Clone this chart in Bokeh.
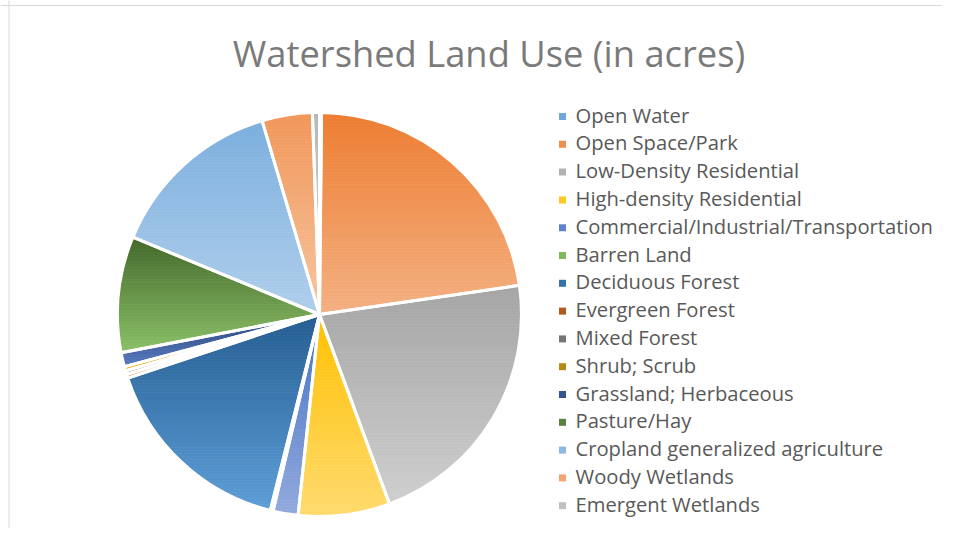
import numpy as np
from bokeh.plotting import figure
from bokeh.models import Range1d, Label, Span, ColumnDataSource
from bokeh.core.properties import value
from bokeh.embed import file_html
from bokeh.resources import INLINE

# ---------------- data ----------------
categories = [
    "Open Water", "Open Space/Park", "Low-Density Residential",
    "High-density Residential", "Commercial/Industrial/Transportation",
    "Barren Land", "Deciduous Forest", "Evergreen Forest", "Mixed Forest",
    "Shrub; Scrub", "Grassland; Herbaceous", "Pasture/Hay",
    "Cropland generalized agriculture", "Woody Wetlands", "Emergent Wetlands",
]
acres = [8, 1126, 1083, 366, 100, 11, 799, 15, 15, 17, 56, 464, 708, 201, 28]

top_colors = ["#5B9BD5", "#ED7D31", "#A5A5A5", "#FFC000", "#4472C4", "#70AD47",
              "#255E91", "#9E480E", "#636363", "#997300", "#264478", "#43682B",
              "#7CAFDD", "#F1975A", "#B7B7B7"]
bottom_colors = ["#9DC3E6", "#F4B183", "#CFCFCF", "#FFDB70", "#93AADD", "#A9D18E",
                 "#5E9ED8", "#E0804A", "#A0A0A0", "#F0C040", "#5A7BC0", "#8CC168",
                 "#B0CFEC", "#F7C5A0", "#D5D5D5"]

title_text = "Watershed Land Use (in acres)"

# ---------------- layout ----------------
W, H = 942, 528
CX, CY, R = 319, 214, 202

p = figure(width=W, height=H, x_range=Range1d(0, W), y_range=Range1d(0, H),
           output_backend="svg", toolbar_location=None,
           x_axis_type=None, y_axis_type=None, min_border=0,
           outline_line_color=None)
p.grid.visible = False
p.background_fill_color = "white"
p.border_fill_color = "white"


def hex2rgb(h):
    h = h.lstrip("#")
    return [int(h[i:i + 2], 16) for i in (0, 2, 4)]


def mix(c0, c1, t):
    a, b = hex2rgb(c0), hex2rgb(c1)
    return "#%02x%02x%02x" % tuple(int(round(a[i] + (b[i] - a[i]) * t)) for i in range(3))


def clip_half(pts, keep, inter):
    out = []
    n = len(pts)
    for i in range(n):
        cur, prev = pts[i], pts[i - 1]
        if keep(cur):
            if not keep(prev):
                out.append(inter(prev, cur))
            out.append(cur)
        elif keep(prev):
            out.append(inter(prev, cur))
    return out


def ix(p1, p2, y0):
    t = (y0 - p1[1]) / (p2[1] - p1[1])
    return (p1[0] + t * (p2[0] - p1[0]), y0)


def clip_band(poly, yl, yh):
    pts = clip_half(poly, lambda q: q[1] >= yl, lambda a, b: ix(a, b, yl))
    if len(pts) < 3:
        return []
    pts = clip_half(pts, lambda q: q[1] <= yh, lambda a, b: ix(a, b, yh))
    return pts


vals = np.array(acres, dtype=float)
deg = vals / vals.sum() * 360.0
ends = np.cumsum(deg)
starts = ends - deg

band_xs, band_ys, band_cols = [], [], []
for i in range(len(categories)):
    a0, a1 = starts[i], ends[i]
    n = max(4, int(deg[i] * 2))
    ts = np.deg2rad(np.linspace(a0, a1, n))
    poly = [(CX, CY)] + [(CX + R * np.sin(t), CY + R * np.cos(t)) for t in ts]
    ymin = min(q[1] for q in poly)
    ymax = max(q[1] for q in poly)
    nb = max(2, int((ymax - ymin) / 3))
    edges = np.linspace(ymax, ymin, nb + 1)
    for k in range(nb):
        yh, yl = edges[k], edges[k + 1]
        pts = clip_band(poly, yl, yh)
        if len(pts) < 3:
            continue
        tt = (k + 0.5) / nb
        band_xs.append([q[0] for q in pts])
        band_ys.append([q[1] for q in pts])
        band_cols.append(mix(top_colors[i], bottom_colors[i], tt))

p.patches(xs="xs", ys="ys", fill_color="c", line_color="c", line_width=0.8,
          source=ColumnDataSource(dict(xs=band_xs, ys=band_ys, c=band_cols)))

wsrc = ColumnDataSource(dict(
    s=list(np.deg2rad(90 - starts)), e=list(np.deg2rad(90 - ends))))
p.wedge(x=CX, y=CY, radius=R, start_angle="s", end_angle="e",
        direction="clock", fill_color=None, line_color="white", line_width=3,
        source=wsrc)

# ---------------- legend ----------------
step = 27.8
nc = len(categories)
leg_src = ColumnDataSource(dict(
    x=[562] * nc, y=[412 - i * step for i in range(nc)],
    tx=[575] * nc, ty=[414 - i * step for i in range(nc)],
    c=[mix(top_colors[i], bottom_colors[i], 0.3) for i in range(nc)],
    t=categories))
p.scatter(x="x", y="y", marker="square", size=7, fill_color="c", line_color=None,
          source=leg_src)
p.text(x="tx", y="ty", text="t", text_font=value("Open Sans"),
       text_font_size="20.2px", text_color="#595959", text_baseline="alphabetic",
       text_align="left", source=leg_src)

# ---------------- title & border ----------------
p.add_layout(Label(x=488.5, y=476, text=title_text, text_font="Open Sans",
                   text_font_size="36.3px", text_color="#7a7a7a",
                   text_align="center", text_baseline="alphabetic"))
p.add_layout(Span(location=523, dimension="width", line_color="#D9D9D9", line_width=1))
p.add_layout(Span(location=8.5, dimension="height", line_color="#D9D9D9", line_width=1))

open("out.html", "w").write(file_html(p, INLINE))
